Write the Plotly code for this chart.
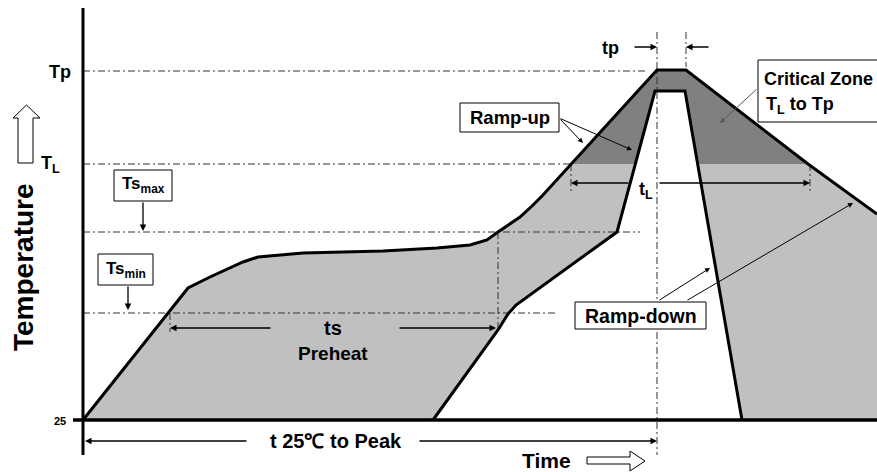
import numpy as np
import plotly.graph_objects as go

# ---- schematic reflow profile data (time units, temperature units; 0 = 25 degC at t=0) ----
outer_t = [0, 105, 127, 160, 175, 220, 300, 354, 387, 404, 415, 437, 449, 460, 574, 603, 725, 794]
outer_T = [0, 132, 143, 158, 163, 167, 169, 172, 175, 180, 188, 203, 214, 225, 350, 350, 256, 206]
inner_t = [350, 415, 425, 433, 534, 572, 602, 659]
inner_T = [0, 90, 106, 115, 188, 329, 329, 0]

level_names = ["Tp", "TL", "Tsmax", "Tsmin"]
level_T = [349, 256, 188, 107]
level_end_t = [564, 488, 557, 474]

t_peak = [574, 603]
t_L = [488, 727]
t_s = [87, 415]
T_MIN, T_MAX = -52, 420
T_MIN_T, T_MAX_T = -83, 794

TP, TL, TSMAX, TSMIN = level_T

FONT = "Liberation Sans, Arial, sans-serif"
LIGHT = "#c0c0c0"
DARK = "#808080"


def clip_above(pts, level):
    """Sutherland-Hodgman clip of polygon to T >= level."""
    out = []
    n = len(pts)
    for i in range(n):
        cur, nxt = pts[i], pts[(i + 1) % n]
        cin, nin = cur[1] >= level, nxt[1] >= level
        if cin:
            out.append(cur)
        if cin != nin:
            f = (level - cur[1]) / (nxt[1] - cur[1])
            out.append((cur[0] + f * (nxt[0] - cur[0]), level))
    return out


light_poly = list(zip(outer_t, outer_T)) + [(outer_t[-1], 0)] + list(zip(inner_t[::-1], inner_T[::-1]))
dark_poly = clip_above(light_poly, TL)

fig = go.Figure()
fig.add_trace(go.Scatter(x=[p[0] for p in light_poly], y=[p[1] for p in light_poly], fill="toself",
                         fillcolor=LIGHT, line=dict(width=0), mode="lines", hoverinfo="skip"))
fig.add_trace(go.Scatter(x=[p[0] for p in dark_poly], y=[p[1] for p in dark_poly], fill="toself",
                         fillcolor=DARK, line=dict(width=0), mode="lines", hoverinfo="skip"))

DASH = "7px,3px,2px,3px"
dcol = "#333333"
# horizontal reference levels
for T, te in zip(level_T, level_end_t):
    fig.add_trace(go.Scatter(x=[0, te], y=[T, T], mode="lines",
                             line=dict(color=dcol, width=1, dash=DASH), hoverinfo="skip"))
# vertical reference lines
vlines = [
    (t_peak[0], 388, -35),
    (t_peak[1], 388, 353),
    (t_s[1], TSMAX, 88),
    (t_s[0], TSMIN, 88),
    (t_L[0], TL, 227),
    (t_L[1], TL, 227),
]
for t, a, b in vlines:
    fig.add_trace(go.Scatter(x=[t, t], y=[a, b], mode="lines",
                             line=dict(color=dcol, width=1, dash=DASH), hoverinfo="skip"))

# profile lines
fig.add_trace(go.Scatter(x=outer_t, y=outer_T, mode="lines", line=dict(color="black", width=3),
                         hoverinfo="skip"))
fig.add_trace(go.Scatter(x=inner_t, y=inner_T, mode="lines", line=dict(color="black", width=3),
                         hoverinfo="skip"))
# axes lines
fig.add_trace(go.Scatter(x=[0, 0], y=[412, -35], mode="lines", line=dict(color="black", width=3),
                         hoverinfo="skip"))
fig.add_trace(go.Scatter(x=[-10, T_MAX_T], y=[0, 0], mode="lines", line=dict(color="black", width=3.5),
                         hoverinfo="skip"))

# hollow arrows
fig.add_shape(type="path",
              path="M -65,257 L -65,302 L -70,302 L -56.5,315 L -43,302 L -50,302 L -50,257 Z",
              xref="x", yref="y", line=dict(color="black", width=1), fillcolor="white")
fig.add_shape(type="path",
              path="M 504,-37 L 547,-37 L 547,-31 L 562,-41 L 547,-51 L 547,-44 L 504,-44 Z",
              xref="x", yref="y", line=dict(color="black", width=1), fillcolor="white")

# label boxes
boxes = [(31, 89, 219, 250), (15, 70, 135, 166), (377, 476, 288, 317), (675, 810, 298, 360), (492, 623, 91, 118)]
for x0, x1, y0, y1 in boxes:
    fig.add_shape(type="rect", x0=x0, x1=x1, y0=y0, y1=y1, xref="x", yref="y",
                  line=dict(color="black", width=1), fillcolor="white")

ann = []


def txt(x, y, s, size=18, xanchor="center", angle=0):
    ann.append(dict(x=x, y=y, text=s, showarrow=False, xanchor=xanchor, yanchor="middle",
                    textangle=angle, font=dict(family=FONT, size=size, color="black", weight="bold")))


def arr(xh, yh, xt, yt, color="black", width=1.3, head=2, size=1.0):
    ann.append(dict(x=xh, y=yh, ax=xt, ay=yt, xref="x", yref="y", axref="x", ayref="y", text="",
                    showarrow=True, arrowhead=head, arrowsize=size, arrowwidth=width,
                    arrowcolor=color, standoff=0, startstandoff=0))


txt(-60, 153, "Temperature", size=28, angle=-90)
txt(-23, 348, "Tp", size=18)
txt(-33, 256, "T<sub>L</sub>", size=18)
txt(-23, -1, "25", size=11)
txt(60, 235, "Ts<sub>max</sub>", size=17)
txt(42.5, 150.5, "Ts<sub>min</sub>", size=17)
txt(250, 92, "ts", size=20)
txt(250, 67, "Preheat", size=19)
txt(253, -21, "t 25\u2103 to Peak", size=20)
txt(463, -40, "Time", size=21)
txt(527, 372, "tp", size=18)
txt(426.5, 302.5, "Ramp-up", size=18.5)
txt(679, 341, "Critical Zone", size=18, xanchor="left")
txt(681, 315, "T<sub>L</sub> to Tp", size=18, xanchor="left")
txt(563, 230, "t<sub>L</sub>", size=18)
txt(557.5, 104.5, "Ramp-down", size=19.5)

# dimension arrows
arr(t_s[0], 92, 189, 92)
arr(t_s[1] - 2, 92, 315, 92)
arr(2, -21, 165, -21)
arr(t_peak[0], -21, 335, -21)
arr(t_L[0], 237, 547, 237)
arr(t_L[1], 237, 575, 237)
arr(t_peak[0], 373, 550, 373)
arr(t_peak[1], 373, 627, 373)
arr(60, TSMAX + 1, 60, 219)
arr(45, TSMIN + 3, 45, 135)
# pointer arrows
arr(500, 277, 476, 302, width=1, size=1)
arr(549, 270, 476, 302, width=1, size=1)
arr(637, 297, 675, 332, color="#555555", width=1, size=1)
arr(627, 152, 575, 119, width=1, size=1)
arr(770, 217, 603, 119, width=1, size=1)

fig.update_layout(
    width=877, height=472, margin=dict(l=0, r=0, t=0, b=0),
    paper_bgcolor="white", plot_bgcolor="white", showlegend=False,
    xaxis=dict(range=[T_MIN_T, T_MAX_T], visible=False, fixedrange=True),
    yaxis=dict(range=[T_MIN, T_MAX], visible=False, fixedrange=True),
    annotations=ann,
)
fig.write_html("out.html", config={"displayModeBar": False},
               post_script="document.body.style.margin='0';document.body.style.overflow='hidden';")
